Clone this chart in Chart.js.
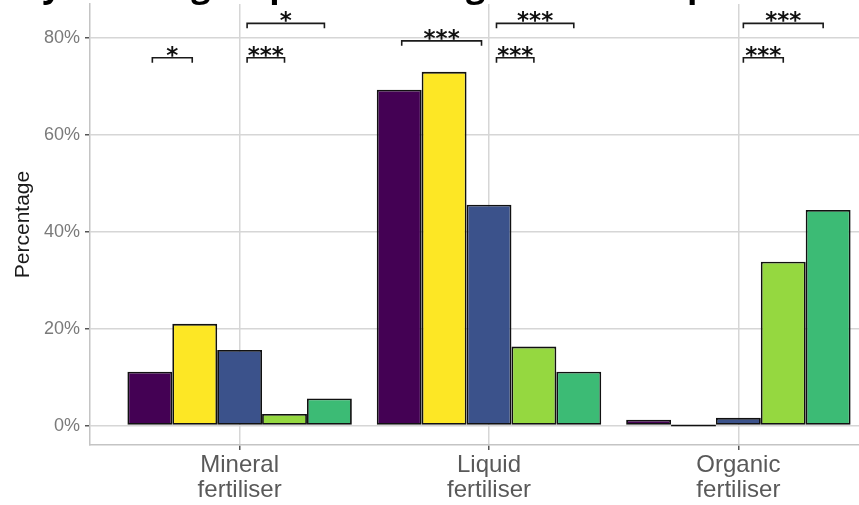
<!DOCTYPE html>
<html>
<head>
<meta charset="utf-8">
<script src="https://cdn.jsdelivr.net/npm/chart.js@4"></script>
<style>
html, body { margin: 0; padding: 0; overflow: hidden; background: #fff; }
canvas { display: block; }
</style>
</head>
<body>
<canvas id="chart" width="888" height="505"></canvas>
<script>
const categories = ['Mineral fertiliser', 'Liquid fertiliser', 'Organic fertiliser'];
const seriesNames = ['Group 1', 'Group 2', 'Group 3', 'Group 4', 'Group 5'];
const group1 = [11.1, 69.3, 1.2];
const group2 = [21.0, 73.0, 0];
const group3 = [15.6, 45.6, 1.6];
const group4 = [2.4, 16.3, 33.8];
const group5 = [5.6, 11.1, 44.5];
const yTicks = [0, 20, 40, 60, 80];
const colours = ['#440154', '#FDE725', '#3B528B', '#95D840', '#3CBB75'];

// significance brackets (category, start / end offset from category centre, height in %, label)
const bracketCat = [1, 1, 1, 2, 2, 2, 3, 3];
const bracketFrom = [-0.35, 0.03, 0.03, -0.35, 0.03, 0.03, 0.02, 0.02];
const bracketTo = [-0.19, 0.18, 0.34, -0.03, 0.18, 0.34, 0.18, 0.34];
const bracketY = [75.9, 75.9, 83.0, 79.4, 75.9, 83.0, 75.9, 83.0];
const bracketLabel = ['*', '***', '*', '***', '***', '***', '***', '***'];

const titleText = 'Fertiliser type used by a farm group in each region and the province';

const allSeries = [group1, group2, group3, group4, group5];

const overlay = {
    id: 'overlay',
    afterDraw(chart) {
        const ctx = chart.ctx;
        const x = chart.scales.x;
        const y = chart.scales.y;
        ctx.save();
        ctx.strokeStyle = '#1a1a1a';
        ctx.lineWidth = 1.6;
        ctx.fillStyle = '#111';
        ctx.font = 'bold 23px "DejaVu Sans"';
        ctx.textAlign = 'center';
        ctx.textBaseline = 'alphabetic';
        bracketCat.forEach((c, i) => {
            const x1 = x.getPixelForValue(c + bracketFrom[i]);
            const x2 = x.getPixelForValue(c + bracketTo[i]);
            const yy = y.getPixelForValue(bracketY[i]);
            const tip = y.getPixelForValue(bracketY[i] - 1);
            ctx.beginPath();
            ctx.moveTo(x1, tip);
            ctx.lineTo(x1, yy);
            ctx.lineTo(x2, yy);
            ctx.lineTo(x2, tip);
            ctx.stroke();
            ctx.fillText(bracketLabel[i], (x1 + x2) / 2, yy + 5);
        });

        // title, mostly cut off by the top edge
        ctx.font = 'bold 34px "Open Sans"';
        ctx.fillStyle = '#000';
        ctx.textAlign = 'left';
        const before = ctx.measureText('Fertiliser type used b').width;
        const yw = ctx.measureText('y').width;
        ctx.fillText(titleText, 52 - before - yw / 2, -3);
        ctx.restore();
    }
};

new Chart(document.getElementById('chart'), {
    type: 'bar',
    data: {
        datasets: allSeries.map((s, i) => ({
            label: seriesNames[i],
            data: categories.map((c, j) => ({ x: j + 1, y: s[j] })),
            backgroundColor: colours[i],
            borderColor: '#111',
            borderWidth: 1.8,
            borderSkipped: false,
            minBarLength: 2,
            categoryPercentage: 0.9,
            barPercentage: 1
        }))
    },
    options: {
        responsive: false,
        animation: false,
        layout: { padding: { top: 4, right: 0, left: 0, bottom: 0 } },
        plugins: {
            legend: { display: false },
            tooltip: { enabled: false }
        },
        scales: {
            x: {
                type: 'linear',
                min: 0.4,
                max: 3.6,
                offset: false,
                afterBuildTicks: (scale) => { scale.ticks = categories.map((c, i) => ({ value: i + 1 })); },
                afterFit: (scale) => { scale.height = 60; scale.paddingLeft = 0; scale.paddingRight = 0; },
                grid: { offset: false, color: '#d6d6d6', lineWidth: 1.5, tickLength: 5, tickColor: '#555' },
                border: { color: '#c4c4c4', width: 1.5 },
                ticks: {
                    autoSkip: false,
                    maxRotation: 0,
                    padding: 3,
                    color: '#595959',
                    font: { family: 'Liberation Sans', size: 24, lineHeight: 1.05 },
                    callback: (v) => categories[v - 1].split(' ')
                }
            },
            y: {
                min: -4,
                max: 87,
                afterBuildTicks: (scale) => { scale.ticks = yTicks.map(v => ({ value: v })); },
                afterFit: (scale) => { scale.width = 90; scale.paddingTop = 0; scale.paddingBottom = 0; },
                grid: { color: '#d6d6d6', lineWidth: 1.5, tickLength: 5, tickColor: '#555' },
                border: { color: '#c4c4c4', width: 1.5 },
                ticks: {
                    padding: 5,
                    color: '#7a7a7a',
                    font: { family: 'Liberation Sans', size: 18 },
                    callback: (v) => v + '%'
                },
                title: {
                    display: true,
                    text: 'Percentage',
                    color: '#1a1a1a',
                    font: { family: 'Liberation Sans', size: 21 },
                    padding: { top: 11, bottom: 0 }
                }
            }
        }
    },
    plugins: [overlay]
});
</script>
</body>
</html>
